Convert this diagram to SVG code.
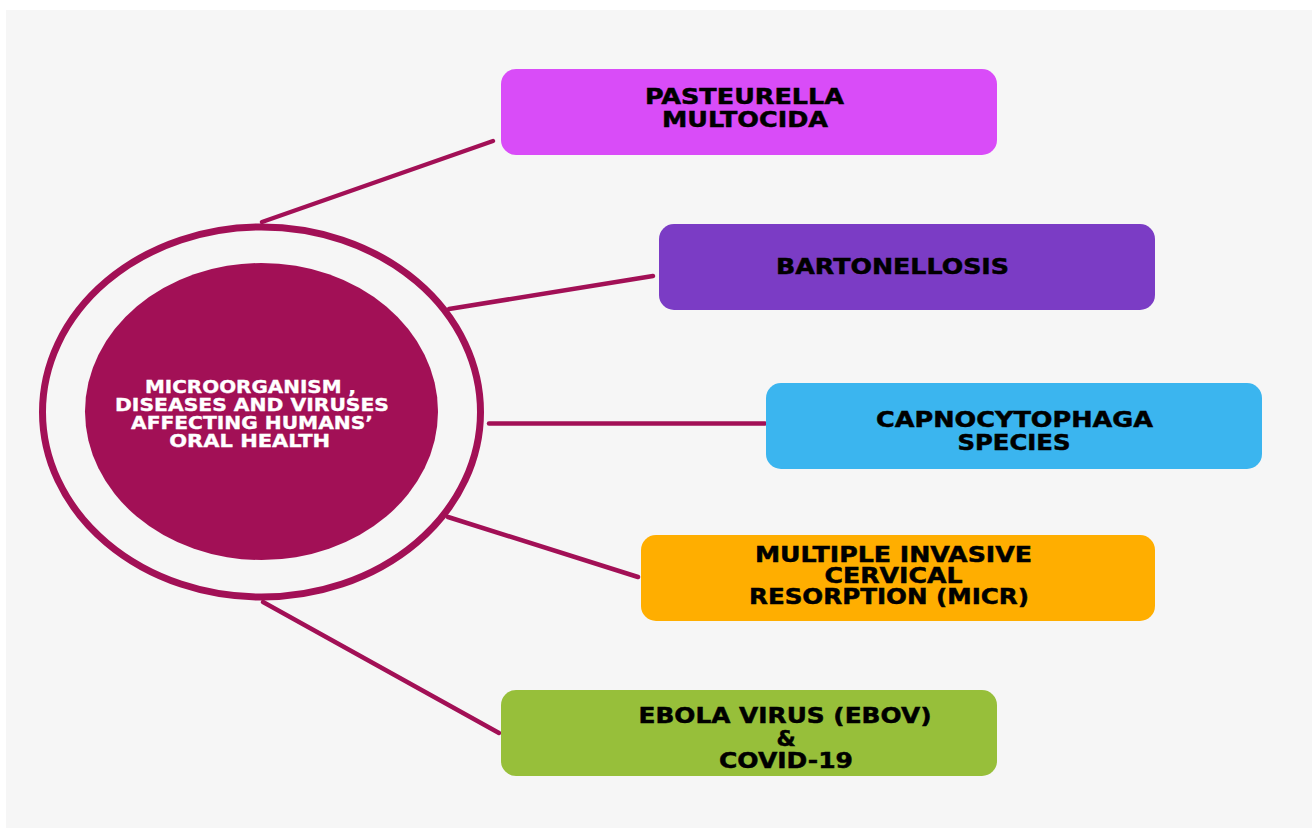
<svg xmlns="http://www.w3.org/2000/svg" width="1313" height="828" viewBox="0 0 1313 828">
  <style>
    .conn { stroke: #a21056; stroke-width: 4.5; stroke-linecap: round; fill: none; }
    .box-text { font-family: "DejaVu Sans", "Liberation Sans", Arial, sans-serif; font-weight: bold; font-size: 22px; fill: #000000; stroke: #000000; stroke-width: 0.5; text-anchor: middle; }
    .hub-text { font-family: "DejaVu Sans", "Liberation Sans", Arial, sans-serif; font-weight: bold; font-size: 17.5px; fill: #ffffff; stroke: #ffffff; stroke-width: 0.35; text-anchor: middle; }
  </style>
  <rect x="0" y="0" width="1313" height="828" fill="#ffffff"/>
  <rect x="6" y="10" width="1306" height="818" fill="#f6f6f6"/>

  <g id="connectors">
    <line class="conn" x1="262" y1="222" x2="493" y2="141"/>
    <line class="conn" x1="449" y1="309" x2="653" y2="276"/>
    <line class="conn" x1="489" y1="423.5" x2="765" y2="423.5"/>
    <line class="conn" x1="448" y1="517" x2="638" y2="577"/>
    <line class="conn" x1="263" y1="602" x2="499" y2="733"/>
  </g>

  <g id="hub">
    <ellipse cx="261.5" cy="412" rx="219" ry="185" fill="none" stroke="#a21056" stroke-width="7"/>
    <ellipse cx="261.5" cy="411.5" rx="176.5" ry="148.5" fill="#a21056"/>
    <text class="hub-text" x="250.5" y="393" textLength="211" lengthAdjust="spacingAndGlyphs">MICROORGANISM ,</text>
    <text class="hub-text" x="252" y="410.5" textLength="274" lengthAdjust="spacingAndGlyphs">DISEASES AND VIRUSES</text>
    <text class="hub-text" x="252" y="429" textLength="242" lengthAdjust="spacingAndGlyphs">AFFECTING HUMANS’</text>
    <text class="hub-text" x="249.7" y="447" textLength="161" lengthAdjust="spacingAndGlyphs">ORAL HEALTH</text>
  </g>

  <g id="pasteurella">
    <rect x="501" y="69" width="496" height="86" rx="15" fill="#d94cf8"/>
    <text class="box-text" x="744.5" y="104" textLength="199" lengthAdjust="spacingAndGlyphs">PASTEURELLA</text>
    <text class="box-text" x="745" y="127" textLength="166" lengthAdjust="spacingAndGlyphs">MULTOCIDA</text>
  </g>

  <g id="bartonellosis">
    <rect x="659" y="224" width="496" height="86" rx="15" fill="#7b3cc5"/>
    <text class="box-text" x="892.5" y="274" textLength="233" lengthAdjust="spacingAndGlyphs">BARTONELLOSIS</text>
  </g>

  <g id="capnocytophaga">
    <rect x="766" y="383" width="496" height="86" rx="15" fill="#3bb5ef"/>
    <text class="box-text" x="1014.5" y="427" textLength="277" lengthAdjust="spacingAndGlyphs">CAPNOCYTOPHAGA</text>
    <text class="box-text" x="1014" y="450" textLength="113" lengthAdjust="spacingAndGlyphs">SPECIES</text>
  </g>

  <g id="micr">
    <rect x="641" y="535" width="514" height="86" rx="15" fill="#ffae00"/>
    <text class="box-text" x="893.5" y="562" textLength="277" lengthAdjust="spacingAndGlyphs">MULTIPLE INVASIVE</text>
    <text class="box-text" x="893.5" y="583" textLength="138" lengthAdjust="spacingAndGlyphs">CERVICAL</text>
    <text class="box-text" x="889" y="604" textLength="280" lengthAdjust="spacingAndGlyphs">RESORPTION (MICR)</text>
  </g>

  <g id="ebola">
    <rect x="501" y="690" width="496" height="86" rx="15" fill="#97bf3a"/>
    <text class="box-text" x="785" y="723" textLength="293" lengthAdjust="spacingAndGlyphs">EBOLA VIRUS (EBOV)</text>
    <text class="box-text" x="786" y="745.5">&amp;</text>
    <text class="box-text" x="786" y="768" textLength="134" lengthAdjust="spacingAndGlyphs">COVID-19</text>
  </g>
</svg>
